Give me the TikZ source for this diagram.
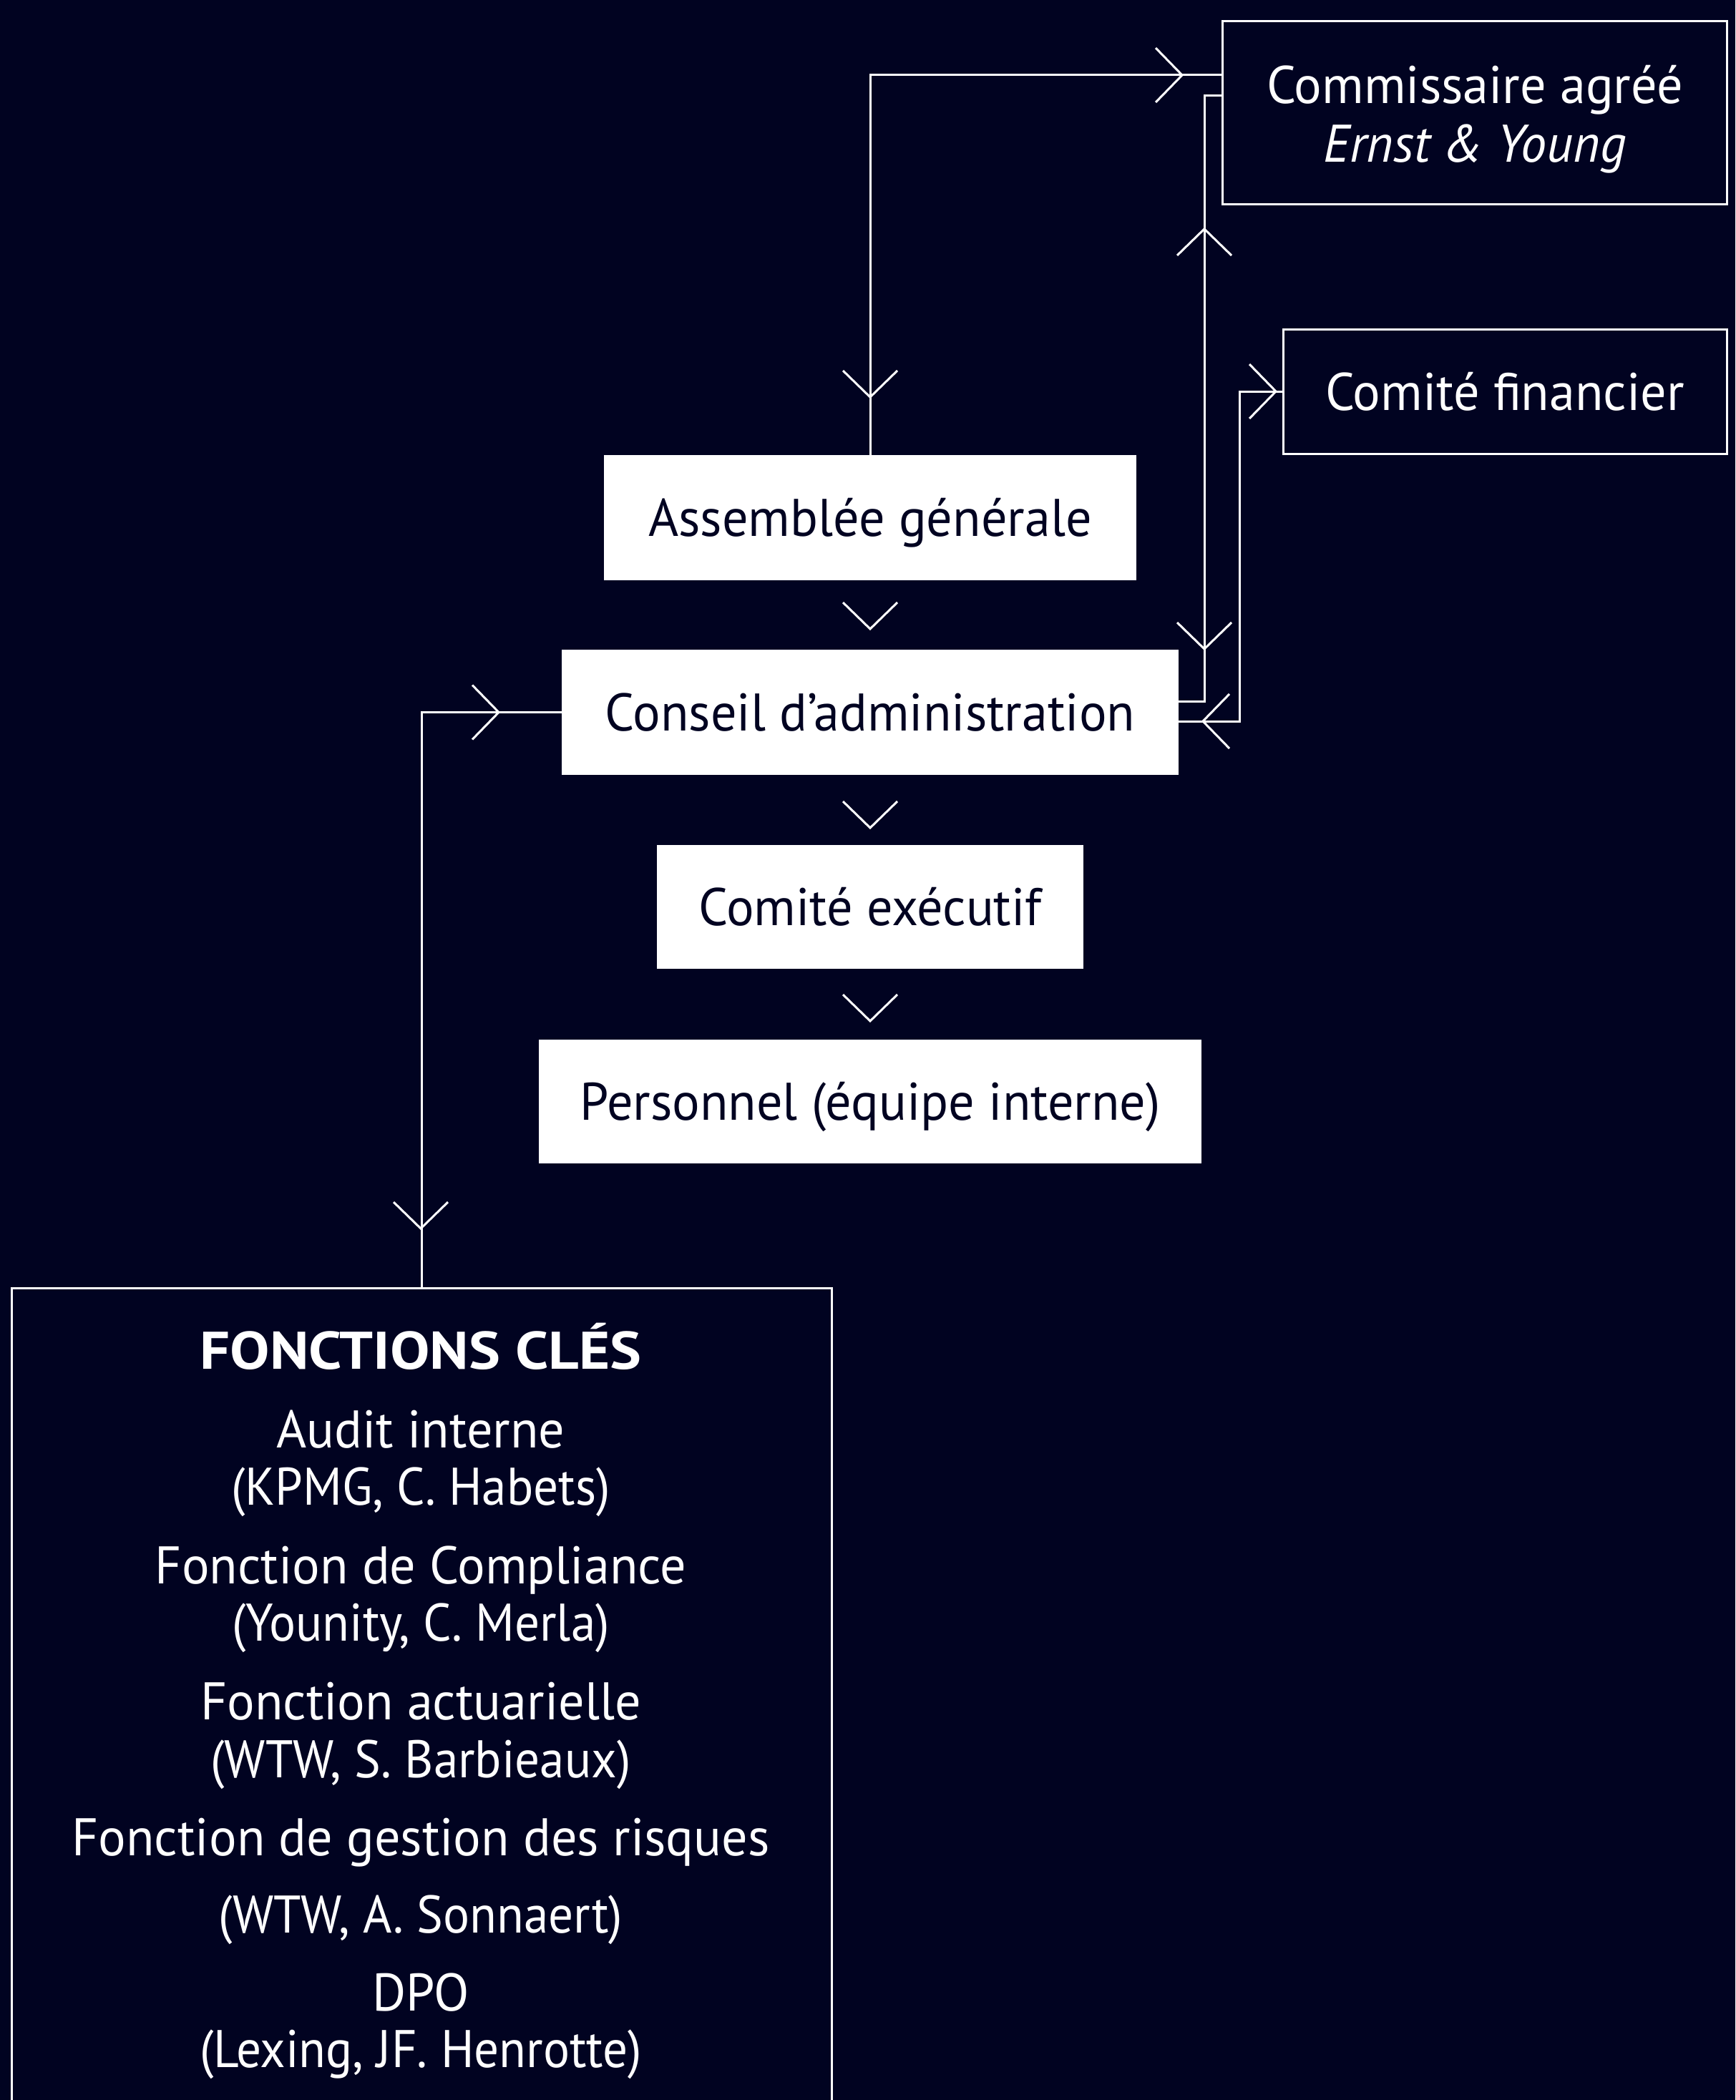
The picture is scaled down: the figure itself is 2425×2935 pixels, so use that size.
\documentclass[tikz,border=0pt]{standalone}
\usepackage{fontspec}
\setmainfont{PT Sans}[FakeStretch=0.975]
\newfontfamily\subfc{PT Sans}[FakeStretch=0.935]
\newfontfamily\boldfc{PT Sans}[FakeStretch=1.12]
\definecolor{navy}{RGB}{1,3,33}
\tikzset{
  conn/.style={draw=white, line width=3pt},
  chev/.style={draw=white, line width=3pt, line cap=butt, line join=miter},
  whitebox/.style={fill=white, draw=none, inner sep=0pt, text=navy, text height=52pt, text depth=0pt, font=\fontsize{74}{88}\selectfont},
  darkbox/.style={draw=white, line width=3pt, fill=navy, inner sep=0pt},
  txt/.style={text=white, inner sep=0pt, anchor=base, font=\fontsize{74}{88}\selectfont},
  subtxt/.style={txt, font=\fontsize{74}{88}\subfc},
  bold/.style={txt, font=\fontsize{74}{88}\boldfc\bfseries},
}
\newcommand\mychevD[2]{\draw[chev] (#1,#2) ++(-38,-37) -- ++(38,37) -- ++(38,-37);}
\newcommand\mychevU[2]{\draw[chev] (#1,#2) ++(-38,37) -- ++(38,-37) -- ++(38,37);}
\newcommand\mychevR[2]{\draw[chev] (#1,#2) ++(-37,-38) -- ++(37,38) -- ++(-37,38);}
\newcommand\mychevL[2]{\draw[chev] (#1,#2) ++(37,-38) -- ++(-37,38) -- ++(37,38);}
\begin{document}
\begin{tikzpicture}[x=1pt,y=-1pt]
\useasboundingbox (0,0) rectangle (2425,2935);
\fill[navy] (0,0) rectangle (2425,2935);
\clip (0,0) rectangle (2425,2935);

% main chain
\node[whitebox, minimum width=744, minimum height=175] (ag) at (1216,723.5) {Assemblée générale};
\node[whitebox, minimum width=862, minimum height=175] (ca) at (1216,995.5) {Conseil d’administration};
\node[whitebox, minimum width=596, minimum height=173] (ce) at (1216,1267.5) {Comité exécutif};
\node[whitebox, minimum width=926, minimum height=173] (pe) at (1216,1539.5) {Personnel (équipe interne)};

% right boxes
\node[darkbox, minimum width=705, minimum height=256] (cm) at (2060.5,158) {};
\node[txt] (cmt1) at (2061,145) {Commissaire agréé};
\node[txt] (cmt2) at (2061,227) {\itshape Ernst \& Young};
\node[darkbox, minimum width=620, minimum height=174, text=white, text height=52pt, text depth=0pt, font=\fontsize{74}{88}\selectfont] (cf) at (2103,547) {Comité financier};

% key functions box
\node[darkbox, anchor=north west, minimum width=1146, minimum height=1300] (fc) at (15,1799) {};
\node[bold] (t0) at (588,1913) {FONCTIONS CLÉS};
\node[txt] (t1) at (588,2023) {Audit interne};
\node[subtxt] (s1) at (588,2103) {(KPMG, C. Habets)};
\node[txt] (t2) at (588,2213) {Fonction de Compliance};
\node[subtxt] (s2) at (588,2293) {(Younity, C. Merla)};
\node[txt] (t3) at (588,2403) {Fonction actuarielle};
\node[subtxt] (s3) at (588,2484) {(WTW, S. Barbieaux)};
\node[txt] (t4) at (588,2593) {Fonction de gestion des risques};
\node[subtxt] (s4) at (588,2701) {(WTW, A. Sonnaert)};
\node[txt] (t5) at (588,2810) {DPO};
\node[subtxt] (s5) at (588,2889) {(Lexing, JF. Henrotte)};

% connectors
\draw[conn] (ag.north) |- ([yshift=53pt]cm.west);
\mychevD{1216}{555}
\mychevR{1652}{105}

\draw[conn] ([yshift=15.5pt]ca.east) -- ++(36,0) |- ([yshift=24pt]cm.west);
\mychevU{1683}{320}
\mychevD{1683}{907}

\draw[conn] ([yshift=-12.5pt]ca.east) -- ++(85,0) |- (cf.west);
\mychevR{1783}{547}
\mychevL{1681}{1008}

\draw[conn] (fc.north) |- (ca.west);
\mychevD{588}{1717}
\mychevR{697}{995.5}

% chain chevrons
\mychevD{1216}{879}
\mychevD{1216}{1157}
\mychevD{1216}{1427}
\end{tikzpicture}
\end{document}
